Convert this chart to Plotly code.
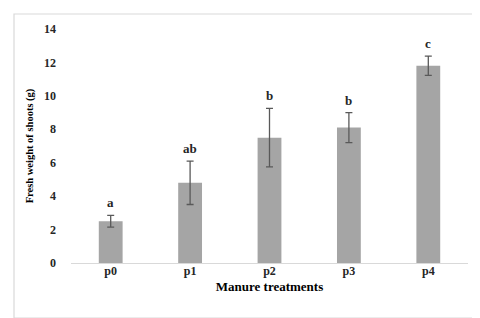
import plotly.graph_objects as go

categories = ["p0", "p1", "p2", "p3", "p4"]
values = [2.5, 4.8, 7.5, 8.1, 11.8]
errors = [0.35, 1.3, 1.75, 0.9, 0.58]
letters = ["a", "ab", "b", "b", "c"]

font_family = "Liberation Serif, Times New Roman, serif"

fig = go.Figure()
fig.add_trace(go.Bar(
    x=categories, y=values,
    marker=dict(color="#a5a5a5", line=dict(width=0)),
    error_y=dict(type="data", array=errors, visible=True,
                 color="#595959", thickness=1.3, width=3.5),
    width=0.3,
))

for c, v, e, l in zip(categories, values, errors, letters):
    fig.add_annotation(x=c, y=v + e, text=l, showarrow=False,
                       yanchor="bottom", yshift=3,
                       font=dict(family=font_family, size=13, color="#262626", weight="bold"))

fig.add_shape(type="rect", xref="paper", yref="paper",
              x0=-0.1436, x1=1.035, y0=-0.235, y1=1.064,
              line=dict(color="#d9d9d9", width=1.2), fillcolor="rgba(0,0,0,0)")

fig.update_layout(
    width=480, height=318,
    margin=dict(l=63, r=20, t=21, b=63),
    paper_bgcolor="white", plot_bgcolor="white",
    showlegend=False,
    font=dict(family=font_family, size=12, color="#262626"),
    xaxis=dict(
        showline=True, linecolor="#d9d9d9", linewidth=1.2,
        ticks="", showgrid=False, ticklabelstandoff=-4,
        tickfont=dict(family=font_family, size=12, color="#262626", weight="bold"),
        title=dict(text="Manure treatments", standoff=5,
                   font=dict(family=font_family, size=13, color="#000000", weight="bold")),
    ),
    yaxis=dict(
        range=[0, 14], dtick=2, showgrid=False, zeroline=False, showline=False,
        ticks="", ticklabelstandoff=14,
        tickfont=dict(family=font_family, size=12, color="#262626", weight="bold"),
        title=dict(text="Fresh weight of shoots (g)", standoff=8,
                   font=dict(family=font_family, size=10.5, color="#000000", weight="bold")),
    ),
)

fig.write_html("out.html")
